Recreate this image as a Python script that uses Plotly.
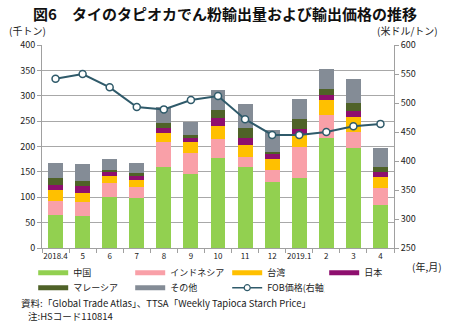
import plotly.graph_objects as go

months = ["2018.4", "5", "6", "7", "8", "9", "10", "11", "12", "2019.1", "2", "3", "4"]
china = [65, 63, 101, 99, 159, 146, 178, 159, 130, 137, 217, 198, 85]
indonesia = [27, 27, 28, 22, 49, 42, 37, 20, 24, 63, 45, 31, 33]
taiwan = [23, 19, 13, 13, 18, 21, 26, 23, 21, 23, 29, 29, 22]
japan = [10, 14, 7, 7, 10, 7, 15, 14, 10, 12, 11, 11, 10]
malaysia = [12, 9, 4, 7, 11, 7, 15, 20, 5, 20, 11, 17, 9]
others = [30, 34, 23, 19, 31, 25, 41, 47, 42, 39, 39, 47, 38]
fob = [542, 550, 527, 493, 489, 505, 512, 472, 445, 445, 450, 460, 464]

series = [
    ("中国", china, "#92D050"),
    ("インドネシア", indonesia, "#F9A0A8"),
    ("台湾", taiwan, "#FFC000"),
    ("日本", japan, "#8E0F6E"),
    ("マレーシア", malaysia, "#4F6228"),
    ("その他", others, "#848C96"),
]
line_color = "#2F5A6A"
FONT = "Noto Sans CJK JP"

fig = go.Figure()
for name, vals, col in series:
    fig.add_trace(go.Bar(x=months, y=vals, name=name, marker=dict(color=col, line=dict(width=0)),
                         width=0.55, showlegend=False))
fig.add_trace(go.Scatter(x=months, y=fob, name="FOB価格(右軸)", yaxis="y2", mode="lines+markers",
                         line=dict(color=line_color, width=2),
                         marker=dict(size=7, color="white", line=dict(color=line_color, width=1.5)),
                         showlegend=False))
# legend entries (thick line swatches), split into two legend rows
for i, (name, vals, col) in enumerate(series):
    fig.add_trace(go.Scatter(x=[None], y=[None], mode="lines", name=name,
                             line=dict(color=col, width=5),
                             legend="legend" if i < 4 else "legend2"))
fig.add_trace(go.Scatter(x=[None], y=[None], mode="lines+markers", name="FOB価格(右軸)",
                         line=dict(color=line_color, width=1.5),
                         marker=dict(size=6, color="white", line=dict(color=line_color, width=1.2)),
                         legend="legend2"))

leg_common = dict(orientation="h", xanchor="left", yanchor="top",
                  entrywidth=52, entrywidthmode="pixels", font=dict(size=9),
                  traceorder="normal", tracegroupgap=0, itemwidth=30, bgcolor="rgba(0,0,0,0)")

fig.update_layout(
    width=450, height=323,
    margin=dict(l=42, r=56, t=45, b=75, autoexpand=False),
    barmode="stack", bargap=0.45,
    plot_bgcolor="white", paper_bgcolor="white",
    font=dict(family=FONT, size=9, color="#222"),
    title=dict(text="<b>図6　タイのタピオカでん粉輸出量および輸出価格の推移</b>",
               x=0.5, xanchor="center", y=0.955, yanchor="middle",
               font=dict(size=15, color="#111", family=FONT)),
    xaxis=dict(range=[-0.5, len(months) - 0.5], showline=True, linecolor="#A0A0A0",
               ticks="outside", tickson="boundaries",
               ticklen=4, tickcolor="#A0A0A0", tickfont=dict(size=8), tickangle=0,
               automargin=False),
    yaxis=dict(range=[0, 400], dtick=50, showgrid=True, gridcolor="#A8A8A8", gridwidth=1,
               showline=True, linecolor="#A0A0A0", ticks="outside", ticklen=4, tickcolor="#A0A0A0",
               tickfont=dict(size=9), automargin=False),
    yaxis2=dict(range=[250, 600], dtick=50, overlaying="y", side="right", showgrid=False,
                showline=True, linecolor="#A0A0A0", ticks="outside", ticklen=4, tickcolor="#A0A0A0",
                tickfont=dict(size=9), automargin=False),
    legend=dict(x=-0.025, y=-0.05, **leg_common),
    legend2=dict(x=-0.025, y=-0.124, **leg_common),
    annotations=[
        dict(text="(千トン)", xref="paper", yref="paper", x=-0.1, y=1.07, xanchor="left",
             yanchor="middle", showarrow=False, font=dict(size=10)),
        dict(text="(米ドル/トン)", xref="paper", yref="paper", x=1.13, y=1.07, xanchor="right",
             yanchor="middle", showarrow=False, font=dict(size=10)),
        dict(text="(年,月)", xref="paper", yref="paper", x=1.045, y=-0.09, xanchor="left",
             yanchor="middle", showarrow=False, font=dict(size=10)),
        dict(text="資料:「Global Trade Atlas」、TTSA「Weekly Tapioca Starch Price」", xref="paper",
             yref="paper", x=-0.065, y=-0.27, xanchor="left", yanchor="middle", showarrow=False,
             font=dict(size=9.5)),
        dict(text="注:HSコード110814", xref="paper", yref="paper", x=-0.045, y=-0.335,
             xanchor="left", yanchor="middle", showarrow=False, font=dict(size=9.5)),
    ],
)

fig.write_html("out.html")
